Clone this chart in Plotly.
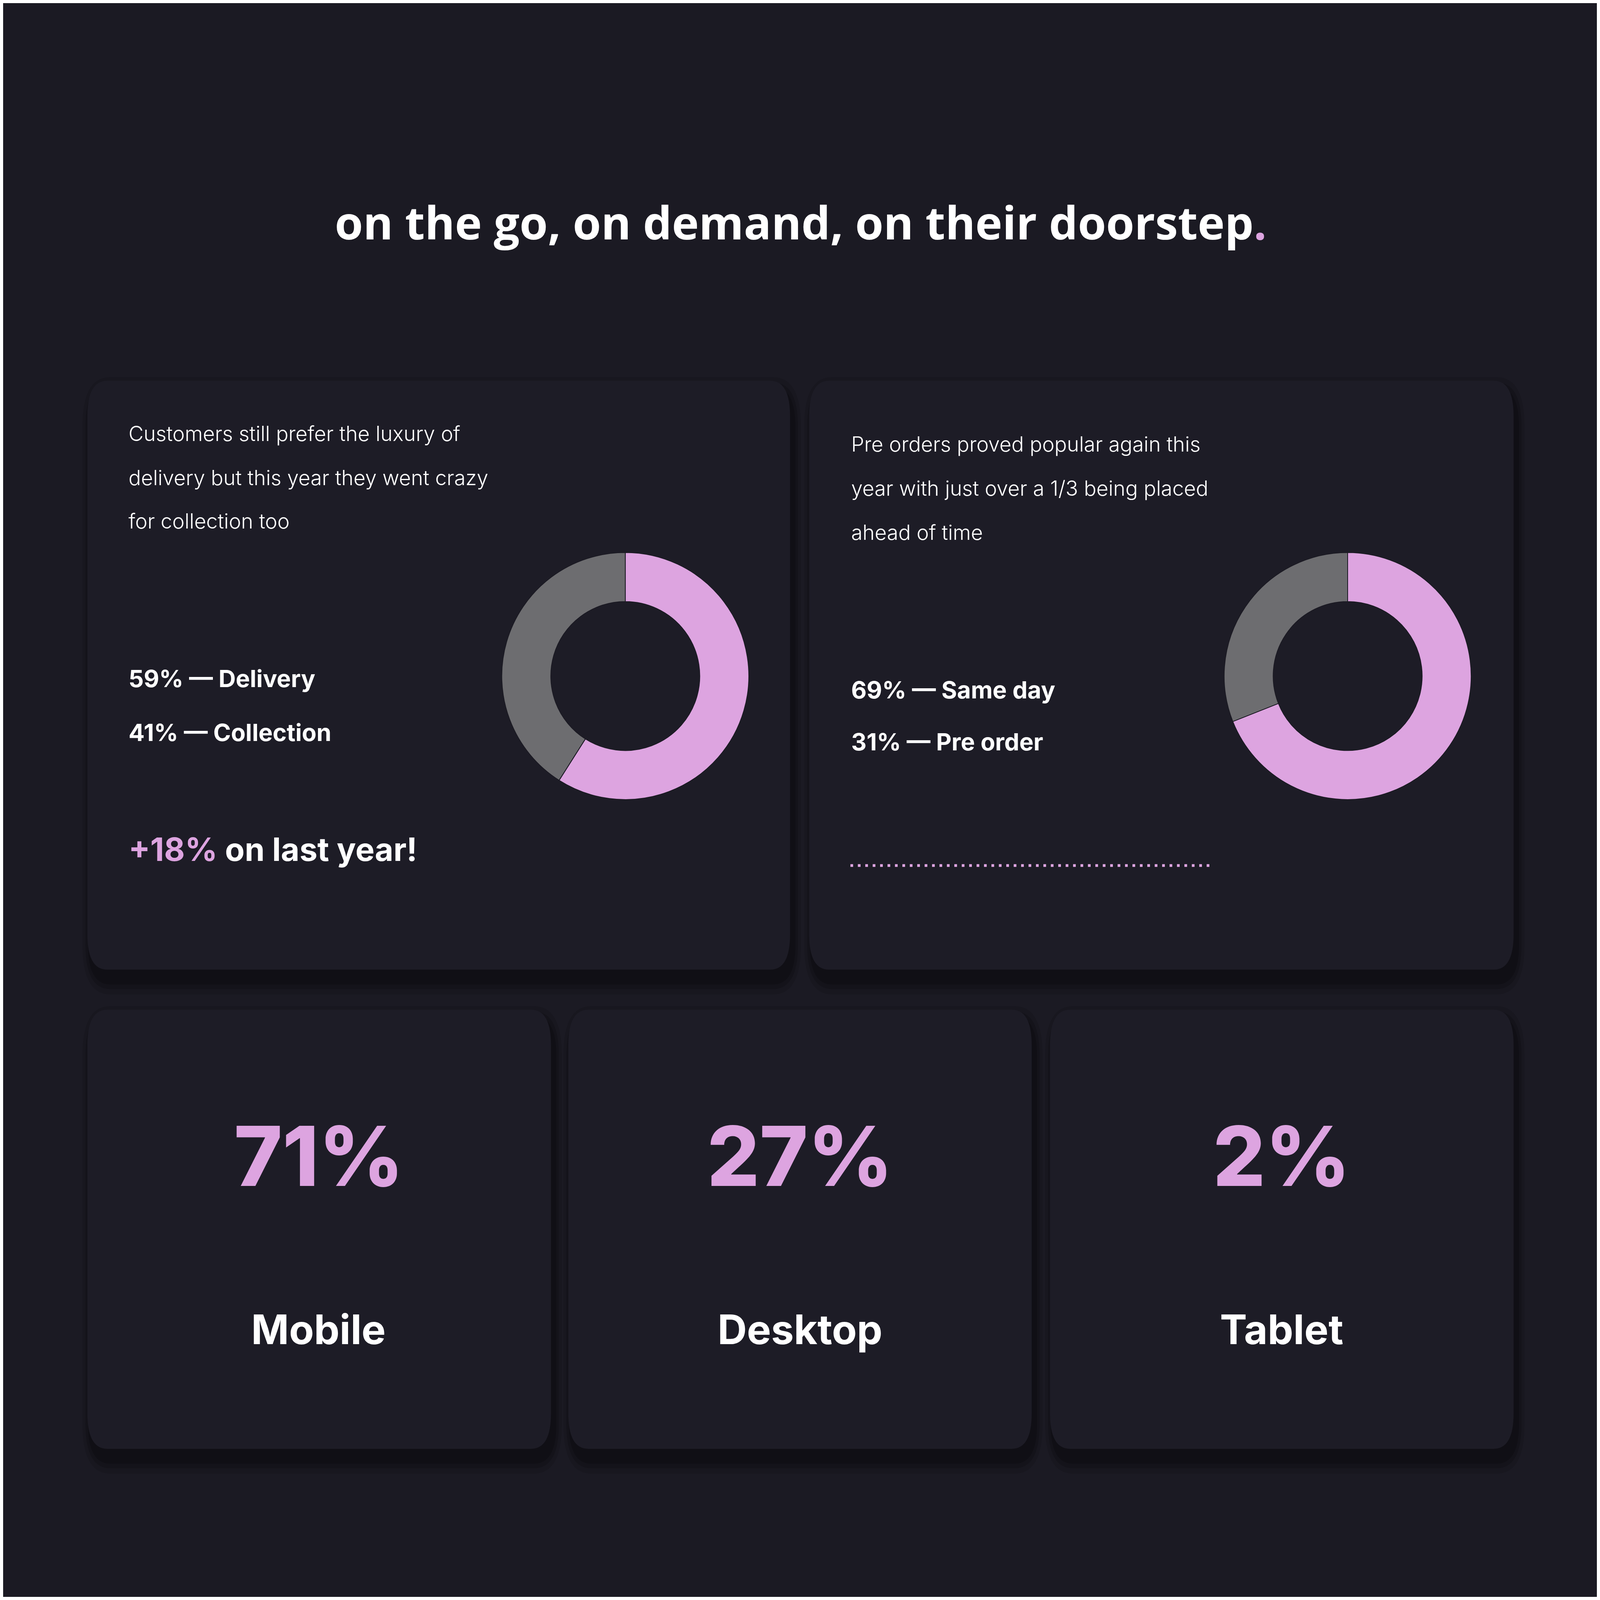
import plotly.graph_objects as go

# Données
delivery_labels = ["Delivery", "Collection"]
delivery_values = [59, 41]
order_labels = ["Same day", "Pre order"]
order_values = [69, 31]
device_labels = ["Mobile", "Desktop", "Tablet"]
device_values = [71, 27, 2]
growth_pct = 18

title_text = "on the go, on demand, on their doorstep"
delivery_note = ["Customers still prefer the luxury of",
                 "delivery but this year they went crazy",
                 "for collection too"]
order_note = ["Pre orders proved popular again this",
              "year with just over a 1/3 being placed",
              "ahead of time"]

# Repère de référence (16:9) ; la figure s'adapte à la fenêtre
W, H = 8000, 4500
K = 0.51  # échelle des polices (fenêtre ~4100 px de large)
BG = "#1b1a23"
CARD = "#1d1c26"
PINK = "#dda4e0"
GREY = "#6d6d70"
WHITE = "#ffffff"
BODY_FONT = "Inter"
TITLE_FONT = "Open Sans"


def rounded_rect(x0, y0, x1, y1, r):
    return (f"M {x0+r},{y0} L {x1-r},{y0} Q {x1},{y0} {x1},{y0+r} "
            f"L {x1},{y1-r} Q {x1},{y1} {x1-r},{y1} L {x0+r},{y1} "
            f"Q {x0},{y1} {x0},{y1-r} L {x0},{y0+r} Q {x0},{y0} {x0+r},{y0} Z")


def card(x0, y0, x1, y1):
    shapes = []
    # ombre portée (quelques couches transparentes)
    for grow, alpha in [(40, 0.10), (25, 0.14), (12, 0.18)]:
        shapes.append(dict(type="path", xref="x", yref="y", layer="below",
                           path=rounded_rect(x0 - grow + 15, y0 - grow + 30, x1 + grow + 15, y1 + grow + 30, 100 + grow),
                           fillcolor=f"rgba(0,0,0,{alpha})", line=dict(width=0)))
    shapes.append(dict(type="path", xref="x", yref="y", layer="below",
                       path=rounded_rect(x0, y0, x1, y1, 100),
                       fillcolor=CARD, line=dict(width=0)))
    return shapes


def donut(values, labels, cx, cy, r):
    return go.Pie(
        values=values, labels=labels, sort=False, direction="clockwise", rotation=0,
        hole=0.603, textinfo="none", hoverinfo="skip", showlegend=False,
        marker=dict(colors=[PINK, GREY], line=dict(color=BG, width=2)),
        domain=dict(x=[(cx - r) / W, (cx + r) / W], y=[1 - (cy + r) / H, 1 - (cy - r) / H]),
    )


fig = go.Figure()
fig.add_trace(donut(delivery_values, delivery_labels, 3123, 1900, 620))
fig.add_trace(donut(order_values, order_labels, 6749, 1900, 620))

shapes = []
shapes += card(423, 1066, 3950, 2729)
shapes += card(4046, 1066, 7582, 2729)
shapes += card(423, 2842, 2750, 4082)
shapes += card(2837, 2842, 5163, 4082)
shapes += card(5255, 2842, 7582, 4082)

# ligne pointillée
shapes.append(dict(type="line", xref="x", yref="y", x0=4253, x1=6075, y0=2435, y1=2435,
                   line=dict(color=PINK, width=7, dash="7px,12px")))

annotations = []


def txt(x, y, text, size, color=WHITE, weight=400, family=BODY_FONT, xanchor="left"):
    annotations.append(dict(x=x, y=y, xref="x", yref="y", text=text, showarrow=False,
                            xanchor=xanchor, yanchor="middle", align="left",
                            font=dict(family=family, size=round(size * K), color=color, weight=weight)))


# Titre
txt(4003, 617, f"{title_text}<span style='color:{PINK}'>.</span>", 230, weight=700,
    family=TITLE_FONT, xanchor="center")

# Carte livraison
for y, line in zip([1215, 1340, 1462], delivery_note):
    txt(625, y, line, 104, weight=300)
txt(625, 1907, f"{delivery_values[0]}% — {delivery_labels[0]}", 120, weight=700)
txt(625, 2059, f"{delivery_values[1]}% — {delivery_labels[1]}", 120, weight=700)
txt(625, 2390, f"<span style='color:{PINK}'>+{growth_pct}%</span> on last year!", 161, weight=700)

# Carte précommandes
for y, line in zip([1245, 1370, 1495], order_note):
    txt(4253, y, line, 104, weight=300)
txt(4253, 1939, f"{order_values[0]}% — {order_labels[0]}", 120, weight=700)
txt(4253, 2086, f"{order_values[1]}% — {order_labels[1]}", 120, weight=700)

# Appareils
centers = [1584, 4000, 6418]
for cx, lab, val in zip(centers, device_labels, device_values):
    txt(cx, 3255, f"{val}%", 413, color=PINK, weight=800, xanchor="center")
    txt(cx, 3745, lab, 204, weight=700, xanchor="center")

fig.update_layout(
    autosize=True,
    margin=dict(l=0, r=0, t=0, b=0),
    paper_bgcolor=BG, plot_bgcolor=BG,
    hovermode=False,
    xaxis=dict(range=[0, W], visible=False, fixedrange=True),
    yaxis=dict(range=[H, 0], visible=False, fixedrange=True),
    shapes=shapes,
    annotations=annotations,
)

fig.write_html("out.html")
